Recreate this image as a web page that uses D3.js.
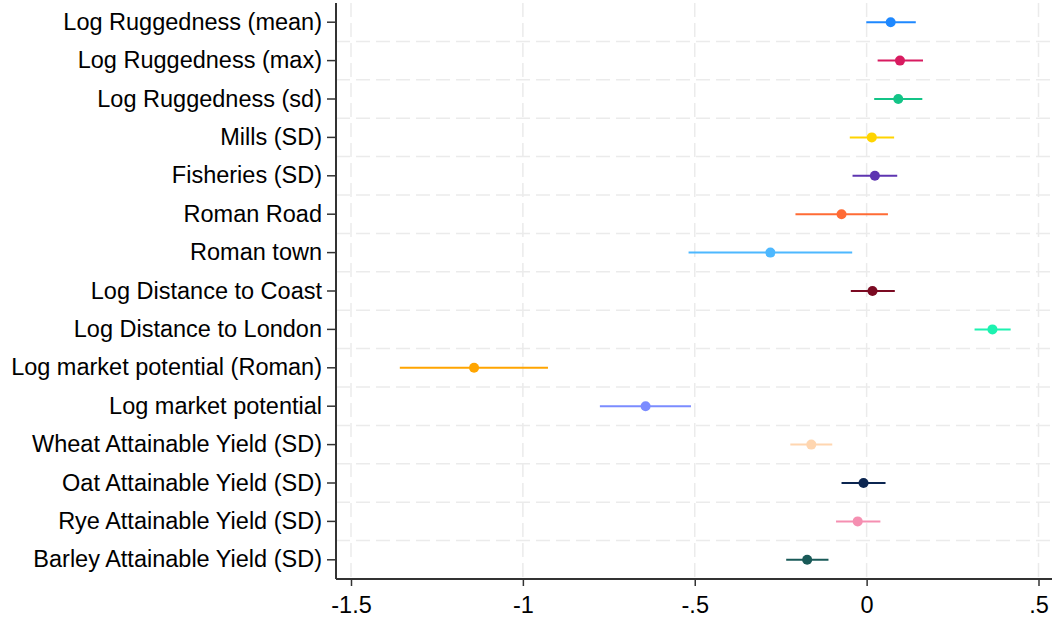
<!DOCTYPE html>
<html>
<head>
<meta charset="utf-8">
<script src="https://cdn.jsdelivr.net/npm/d3@7"></script>
<style>
  body { margin: 0; background: #fff; }
  svg text { font-family: "Liberation Sans", Arial, sans-serif; fill: #000; }
</style>
</head>
<body>
<div id="chart"></div>
<script>
// variables, top to bottom
const labels = [
    'Log Ruggedness (mean)', 'Log Ruggedness (max)', 'Log Ruggedness (sd)',
    'Mills (SD)', 'Fisheries (SD)', 'Roman Road', 'Roman town',
    'Log Distance to Coast', 'Log Distance to London',
    'Log market potential (Roman)', 'Log market potential',
    'Wheat Attainable Yield (SD)', 'Oat Attainable Yield (SD)',
    'Rye Attainable Yield (SD)', 'Barley Attainable Yield (SD)'
];
const estimates = [0.070, 0.097, 0.092, 0.015, 0.024, -0.073, -0.280, 0.017, 0.366, -1.142, -0.643, -0.161, -0.009, -0.026, -0.173];
const lower = [-0.001, 0.032, 0.022, -0.049, -0.041, -0.207, -0.518, -0.046, 0.314, -1.358, -0.776, -0.222, -0.073, -0.089, -0.234];
const upper = [0.143, 0.164, 0.162, 0.080, 0.089, 0.062, -0.042, 0.082, 0.419, -0.927, -0.511, -0.100, 0.055, 0.040, -0.111];
const colors = ['#1e88ff', '#d81b60', '#13c487', '#ffd400', '#5e35b1', '#ff6b35', '#4db8ff', '#7b0a22',
    '#1df2b0', '#ffa500', '#7b8cff', '#ffd6b0', '#0b2550', '#f58fb1', '#195a58'];
const xTicks = [-1.5, -1, -0.5, 0, 0.5];

const data = labels.map((l, i) => ({label: l, est: estimates[i], lo: lower[i], hi: upper[i], color: colors[i]}));

const width = 1052, height = 623;
const margin = {top: 3, right: 0, bottom: 44, left: 336};

const svg = d3.select('#chart').append('svg')
    .attr('width', width)
    .attr('height', height);

const x = d3.scaleLinear()
    .domain([-1.5, 0.5])
    .range([351, 1038.5]);

const y = d3.scaleBand()
    .domain(labels)
    .range([margin.top, height - margin.bottom]);

const yc = d => y(d) + y.bandwidth() / 2;

// gridlines
const grid = svg.append('g').attr('stroke', '#ebebeb').attr('stroke-width', 1.5)
    .attr('stroke-dasharray', '14,6');
grid.selectAll('.vgrid')
    .data(xTicks)
    .join('line')
    .attr('x1', d => x(d)).attr('x2', d => x(d))
    .attr('y1', margin.top).attr('y2', height - margin.bottom);
grid.selectAll('.hgrid')
    .data(labels.slice(1))
    .join('line')
    .attr('x1', margin.left).attr('x2', width)
    .attr('y1', d => y(d)).attr('y2', d => y(d));

// confidence intervals
svg.selectAll('.ci')
    .data(data)
    .join('line')
    .attr('class', 'ci')
    .attr('x1', d => x(d.lo)).attr('x2', d => x(d.hi))
    .attr('y1', d => yc(d.label)).attr('y2', d => yc(d.label))
    .attr('stroke', d => d.color)
    .attr('stroke-width', 2);

svg.selectAll('.pt')
    .data(data)
    .join('circle')
    .attr('class', 'pt')
    .attr('cx', d => x(d.est))
    .attr('cy', d => yc(d.label))
    .attr('r', 5)
    .attr('fill', d => d.color);

// axes
const xAxis = d3.axisBottom(x)
    .tickValues(xTicks)
    .tickSize(7)
    .tickPadding(10)
    .tickSizeOuter(0)
    .tickFormat(d => String(d).replace('0.', '.'));

const xAxisG = svg.append('g')
    .attr('transform', `translate(0,${height - margin.bottom})`)
    .call(xAxis);

const yAxis = d3.axisLeft(y)
    .tickSize(9)
    .tickPadding(5)
    .tickSizeOuter(0);

const yAxisG = svg.append('g')
    .attr('transform', `translate(${margin.left},0)`)
    .call(yAxis);

[xAxisG, yAxisG].forEach(g => {
    g.select('.domain').attr('stroke', '#333').attr('stroke-width', 2);
    g.selectAll('.tick line').attr('stroke', '#333').attr('stroke-width', 1.5);
    g.selectAll('.tick text').attr('font-size', 23.5).attr('fill', '#000');
});
xAxisG.select('.domain').attr('d', `M${margin.left},0H${width}`);
yAxisG.select('.domain').attr('d', `M0,${margin.top}V${height - margin.bottom}`);
</script>
</body>
</html>
